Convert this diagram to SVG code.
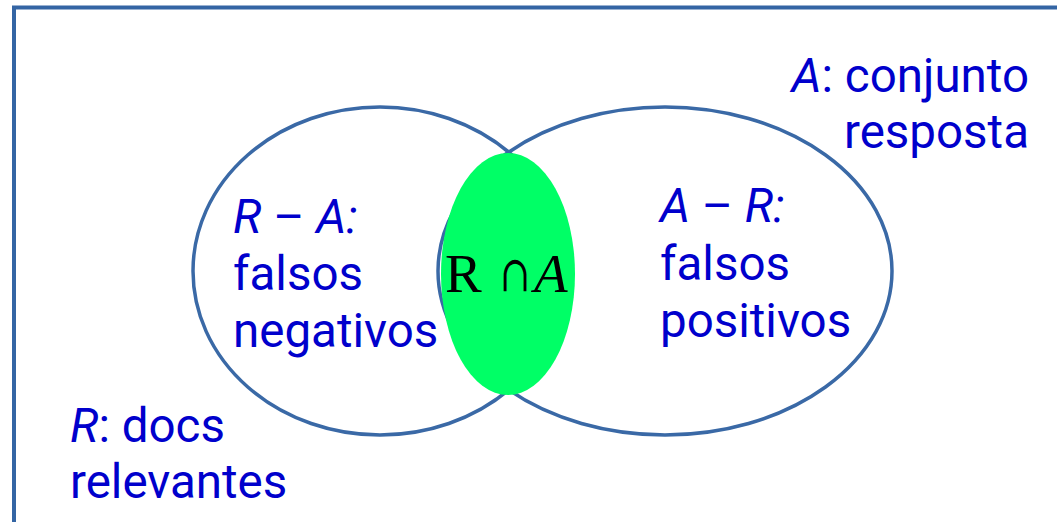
<svg xmlns="http://www.w3.org/2000/svg" width="1057" height="522" viewBox="0 0 1057 522">
<style>
.lbl{font-family:Roboto,"Liberation Sans",sans-serif;font-size:47.5px;fill:#0000CC}
.it{font-style:italic}
.ell{fill:none;stroke:#3A69A6;stroke-width:3.5}
.math{font-family:"Liberation Serif","DejaVu Serif",serif;font-size:55px;fill:#000}
</style>
<rect x="14" y="7.5" width="1100" height="600" fill="#fff" stroke="#3465A4" stroke-width="4"/>
<g id="set-R">
<ellipse class="ell" cx="380" cy="271" rx="187" ry="164"/>
</g>
<g id="set-A">
<ellipse class="ell" cx="665" cy="271" rx="227" ry="164"/>
</g>
<g id="intersection">
<ellipse cx="508" cy="274" rx="67" ry="121" fill="#00FF66"/>
</g>
<g id="intersection-label">
<text class="math" x="445" y="292">R</text>
<text transform="translate(500,291) scale(0.72,1)" font-family="'DejaVu Serif',serif" font-size="50" fill="#000">∩</text>
<text class="math" x="534" y="292" font-style="italic">A</text>
</g>
<g id="label-R-minus-A">
<text class="lbl" x="233" y="233"><tspan class="it">R</tspan> – <tspan class="it">A:</tspan></text>
<text class="lbl" x="233" y="290">falsos</text>
<text class="lbl" x="233" y="347">negativos</text>
</g>
<g id="label-A-minus-R">
<text class="lbl" x="660" y="222"><tspan class="it">A</tspan> – <tspan class="it">R:</tspan></text>
<text class="lbl" x="660" y="280">falsos</text>
<text class="lbl" x="660" y="337">positivos</text>
</g>
<g id="label-A">
<text class="lbl" x="1029" y="92" text-anchor="end"><tspan class="it">A</tspan>: conjunto</text>
<text class="lbl" x="1029" y="148" text-anchor="end">resposta</text>
</g>
<g id="label-R">
<text class="lbl" x="70" y="442"><tspan class="it">R</tspan>: docs</text>
<text class="lbl" x="70" y="498">relevantes</text>
</g>
<g id="connectors"></g>
</svg>
